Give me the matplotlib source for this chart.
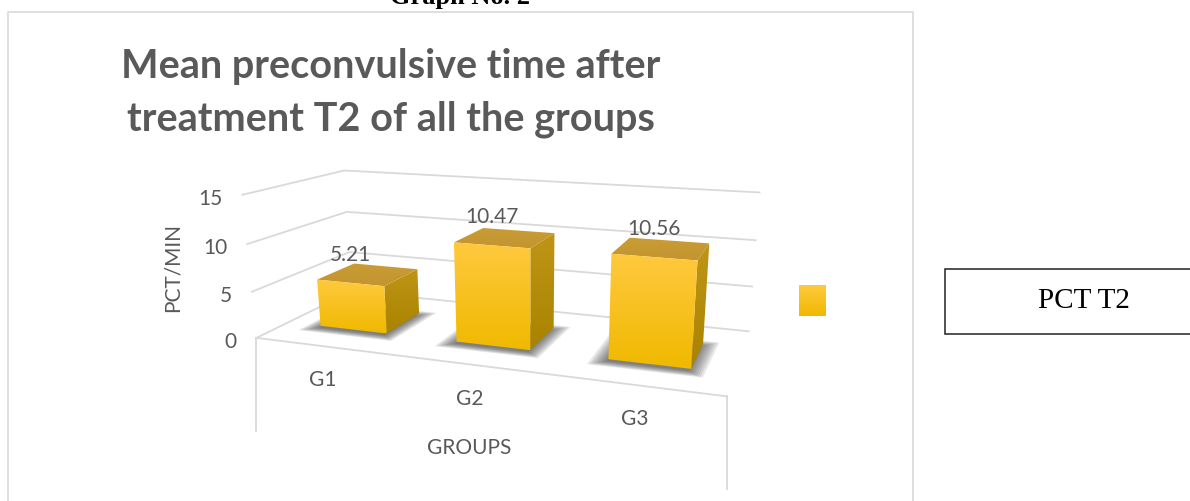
import numpy as np
import matplotlib.pyplot as plt
from matplotlib.patches import Polygon, Rectangle

groups = ["G1", "G2", "G3"]
pct_t2 = [5.21, 10.47, 10.56]
y_ticks = [0, 5, 10, 15]
series_name = "PCT T2"

TEXT = "#595959"
GRID = "#d9d9d9"
SANS = "Lato"
SERIF = "Liberation Serif"

# camera for the 3-D box: world (category, value, depth) -> figure pixels
_world = np.array([
    [0, 0, 0], [3, 0, 0], [0, 0, 1], [3, 0, 1],
    [0, 15, 0], [0, 15, 1], [3, 15, 1],
    [0, 10, 0], [0, 10, 1], [3, 10, 1],
    [0, 5, 0], [3, 5, 1],
], dtype=float)
_screen = np.array([
    [255, 337], [727, 397], [353, 292], [748, 331],
    [243, 195], [343, 170], [760, 193],
    [248, 244], [347, 212], [755, 240],
    [252, 292], [753, 286],
], dtype=float)


def fit_camera(world, screen):
    m2, s2 = screen.mean(0), np.sqrt(2) / np.linalg.norm(screen - screen.mean(0), axis=1).mean()
    m3, s3 = world.mean(0), np.sqrt(3) / np.linalg.norm(world - world.mean(0), axis=1).mean()
    T2 = np.array([[s2, 0, -s2 * m2[0]], [0, s2, -s2 * m2[1]], [0, 0, 1]])
    T3 = np.eye(4)
    T3[:3, :3] *= s3
    T3[:3, 3] = -s3 * m3
    rows = []
    for X, (u, v) in zip(world, screen):
        Xh = T3 @ np.append(X, 1)
        un, vn, _ = T2 @ np.array([u, v, 1])
        rows.append(np.concatenate([Xh, np.zeros(4), -un * Xh]))
        rows.append(np.concatenate([np.zeros(4), Xh, -vn * Xh]))
    _, _, vt = np.linalg.svd(np.array(rows))
    P = vt[-1].reshape(3, 4)
    return np.linalg.inv(T2) @ P @ T3


P = fit_camera(_world, _screen)


def proj(pts):
    pts = np.atleast_2d(np.asarray(pts, dtype=float))
    h = np.c_[pts, np.ones(len(pts))] @ P.T
    return h[:, :2] / h[:, 2:3]


def gradient_poly(ax, pts, c_top, c_bot, z):
    poly = Polygon(pts, closed=True, facecolor="none", edgecolor="none", zorder=z)
    ax.add_patch(poly)
    c_top = np.array(plt.matplotlib.colors.to_rgb(c_top))
    c_bot = np.array(plt.matplotlib.colors.to_rgb(c_bot))
    t = np.linspace(0, 1, 64)[:, None]
    img = (c_top * (1 - t) + c_bot * t)[:, None, :]
    x0, y0 = pts.min(0)
    x1, y1 = pts.max(0)
    im = ax.imshow(img, extent=(x0, x1, y1, y0), aspect="auto",
                   interpolation="bilinear", zorder=z)
    im.set_clip_path(poly)


fig = plt.figure(figsize=(11.9, 5.01), dpi=100)
ax = fig.add_axes([0, 0, 1, 1])
ax.axis("off")

# chart area border and page header
ax.plot([8, 8, 913, 913], [501, 12, 12, 501], color=GRID, lw=1.2, zorder=1)
ax.text(460, 4, "Graph No. 2", family=SERIF, weight="bold", fontsize=19,
        ha="center", va="baseline", color="black")

# title
ax.text(391, 78, "Mean preconvulsive time after", family=SANS, weight="bold",
        fontsize=28.5, color=TEXT, ha="center", va="baseline")
ax.text(391, 130, "treatment T2 of all the groups", family=SANS, weight="bold",
        fontsize=28.5, color=TEXT, ha="center", va="baseline")

# walls: gridlines on the side wall and the back wall
n = len(groups)
for v in y_ticks:
    pts = proj([[0, v, 0], [0, v, 1], [n, v, 1]])
    ax.plot(pts[:, 0], pts[:, 1], color=GRID, lw=1.3, zorder=2)
    tx, ty = proj([0, v, 0])[0]
    ax.text(tx - 20, ty + 4, str(v), family=SANS, fontsize=15, color=TEXT,
            ha="right", va="center")

# floor front edge and the category label panel
front = proj([[0, 0, 0], [n, 0, 0]])
ax.plot(front[:, 0], front[:, 1], color=GRID, lw=1.3, zorder=2)
for fx, fy in front:
    ax.plot([fx, fx], [fy, fy + 93], color=GRID, lw=1.3, zorder=2)

bar_w, z0, z1 = 0.5, 0.3, 0.7
for i, (g, val) in enumerate(zip(groups, pct_t2)):
    xc = i + 0.5
    xa, xb = xc - bar_w / 2, xc + bar_w / 2

    # soft shadow under the column
    base = proj([[xa, 0, z0], [xb, 0, z0], [xb, 0, z1], [xa, 0, z1]])
    cen = base.mean(0)
    for s in np.linspace(1.0, 1.4, 8):
        ax.add_patch(Polygon(cen + (base - cen) * s + [-2, 2], closed=True,
                             facecolor="#303030", edgecolor="none", alpha=0.11, zorder=3))

    side = proj([[xb, 0, z0], [xb, 0, z1], [xb, val, z1], [xb, val, z0]])
    top = proj([[xa, val, z0], [xb, val, z0], [xb, val, z1], [xa, val, z1]])
    face = proj([[xa, 0, z0], [xb, 0, z0], [xb, val, z0], [xa, val, z0]])
    gradient_poly(ax, side, "#bf9516", "#a98300", 4)
    gradient_poly(ax, top, "#c99c36", "#c39530", 4)
    gradient_poly(ax, face, "#ffc93f", "#f0b900", 5)

    lx, ly = proj([xc, val, z0])[0]
    ax.text(lx, ly - 28, f"{val:.2f}", family=SANS, fontsize=15, color=TEXT,
            ha="center", va="center", zorder=6)
    gx, gy = proj([xc, 0, 0])[0]
    ax.text(gx - 1, gy + 34, g, family=SANS, fontsize=15, color=TEXT,
            ha="center", va="center")

ax.text(469, 448, "GROUPS", family=SANS, fontsize=15, color=TEXT,
        ha="center", va="center")
ax.text(173, 268, "PCT/MIN", family=SANS, fontsize=15, color=TEXT,
        ha="center", va="center", rotation=90)

# legend marker and the series name box beside the chart
gradient_poly(ax, np.array([[799, 285], [826, 285], [826, 316], [799, 316]]),
              "#ffc93f", "#f0b900", 5)
ax.add_patch(Rectangle((945, 269), 260, 65, facecolor="white",
                       edgecolor="#222222", lw=1.1, zorder=5))
ax.text(1084, 308, series_name, family=SERIF, fontsize=21, color="black",
        ha="center", va="baseline", zorder=6)

ax.set_xlim(0, 1190)
ax.set_ylim(501, 0)
fig.savefig("out.png", dpi=100)
